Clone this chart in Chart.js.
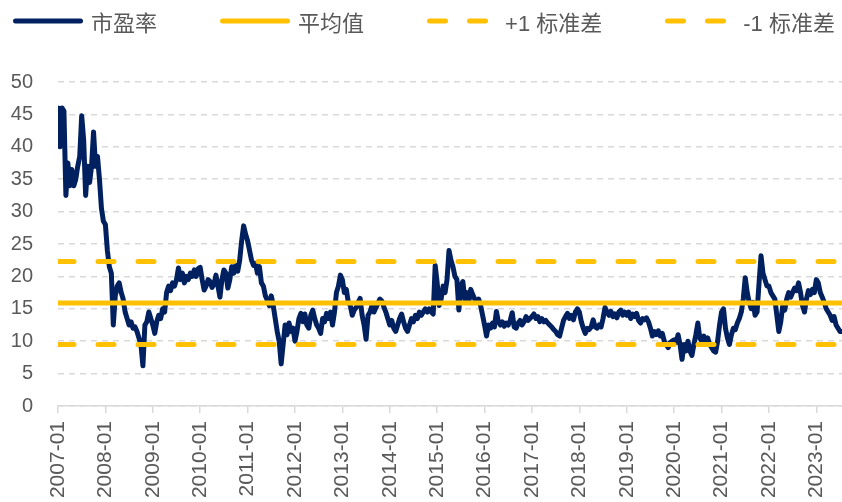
<!DOCTYPE html>
<html>
<head>
<meta charset="utf-8">
<script src="https://cdn.jsdelivr.net/npm/chart.js@4.4.1/dist/chart.umd.min.js"></script>
<style>
  html, body { margin: 0; padding: 0; background: #fff; }
  #wrap { position: relative; width: 842px; height: 502px; }
  #legend {
    position: absolute; top: 6px; left: 13px; height: 30px;
    display: flex; align-items: center;
    font-family: "Liberation Sans", "Noto Sans CJK SC", sans-serif;
    font-size: 22px; color: #595959; white-space: nowrap;
  }
  .item { display: flex; align-items: center; margin-right: 63px; }
  .item svg { margin-right: 8px; }
</style>
</head>
<body>
<div id="wrap">
  <canvas id="peChart" width="842" height="502"></canvas>
  <div id="legend"></div>
</div>
<script>
const startYear = 2007;
const pointsPerYear = 24; // two readings per month

const xTickLabels = ['2007-01', '2008-01', '2009-01', '2010-01', '2011-01', '2012-01',
  '2013-01', '2014-01', '2015-01', '2016-01', '2017-01', '2018-01', '2019-01',
  '2020-01', '2021-01', '2022-01', '2023-01'];

const seriesNames = ['市盈率', '平均值', '+1 标准差', '-1 标准差'];

const pe = [
  // 2007
  46, 40, 46, 45.5, 32.5, 37.5, 34, 36.5, 34, 35, 37, 38.5, 44.8, 41, 32.5, 37, 34.5, 37, 42.3, 37, 38.5, 35, 30.5, 28.5,
  // 2008
  28, 24, 21.5, 20.5, 12.5, 17, 18.5, 19, 17.5, 16.5, 14.5, 13.5, 12.5, 13, 12, 12.2, 11.5, 10.5, 9.5, 6.2, 12.5, 13, 14.5, 13.5,
  // 2009
  12.5, 11.2, 13, 14, 13.5, 15, 14.5, 17.5, 18.5, 17.8, 19, 18.5, 19.5, 21.3, 19.5, 20.5, 19, 20, 19.5, 20.5, 20, 21, 20, 21.2,
  // 2010
  21.4, 19.5, 17.9, 18.5, 19.5, 19.2, 18.3, 18.8, 20.2, 18.5, 16.8, 19.5, 21, 20.5, 18.2, 19.5, 21.5, 20.5, 21.7, 20.8, 22.5, 25.5, 27.8, 26.5,
  // 2011
  25.5, 24, 22.5, 21.7, 22, 20.5, 21.5, 19, 18.5, 17, 16.3, 15.5, 17, 15.5, 13.5, 11.5, 10, 6.5, 9.5, 12.5, 11, 12.8, 11.5, 12,
  // 2012
  10, 11.5, 13.5, 14.3, 13, 14.2, 12.5, 12, 14, 14.8, 13.5, 12.5, 12, 11.2, 13.5, 13, 14.3, 13.5, 14.5, 12.5, 14.5, 17.5, 18.5, 20.2,
  // 2013
  19.5, 17.5, 18, 16, 15.5, 14, 14.8, 15.2, 16, 16.6, 14, 12.5, 10.3, 14, 14.5, 15.5, 14.5, 15.2, 15.8, 16.5, 16.2, 15.3, 14.5, 13.5,
  // 2014
  12.5, 13.2, 12, 11.5, 12.5, 13.5, 14.2, 13, 12, 11.5, 12.5, 13.5, 13, 14, 13.5, 14.5, 14, 14.5, 15, 14.5, 15, 14.5, 14.2, 21.7,
  // 2015
  19, 15.5, 16.5, 18.5, 17.5, 19.5, 24, 22.5, 21.5, 20, 19.5, 14.8, 18.5, 19.2, 16.5, 17.5, 16, 18, 17.2, 16.5, 16, 16.5, 15.5, 14,
  // 2016
  12.5, 10.8, 12.5, 12, 12.8, 12.2, 14.6, 13, 12.5, 13, 12.3, 12.8, 12.5, 13.2, 14.4, 12.2, 12, 12.8, 13.2, 12.5, 13, 13.8, 13.2, 13.5,
  // 2017
  13.8, 14.2, 13.5, 13.8, 13, 13.5, 13, 13.2, 12.8, 12.5, 12.2, 11.8, 11.5, 11, 10.8, 12, 13.2, 13.8, 14.3, 13.5, 14, 13.3, 14.5, 15,
  // 2018
  14.5, 13, 12, 11.2, 12, 11.8, 12.2, 13.3, 12.2, 12, 12.5, 12.2, 13.5, 15.2, 14.5, 14, 14.6, 13.8, 14.2, 13.6, 14.5, 14.8, 14, 14.5,
  // 2019
  14, 14.5, 13.5, 14.2, 13.8, 14.3, 13.2, 12.8, 13.5, 13.3, 13.6, 13, 12, 10.8, 11.5, 11, 11.6, 10.8, 11.2, 10, 9.5, 9, 9.8, 10,
  // 2020
  10.2, 9.8, 11, 9.5, 7.2, 9.5, 8.5, 10, 8.5, 7.8, 9.5, 11, 12.8, 10.5, 10, 10.8, 9.8, 10.5, 9.5, 9, 8.5, 8.3, 10, 12.5,
  // 2021
  14.5, 15, 12, 10.5, 9.5, 11, 12, 11.8, 12.8, 13.5, 14.5, 16.5, 19.8, 17.5, 16, 15, 16, 14, 14.5, 19, 23.2, 20.5, 19.5, 18.5,
  // 2022
  18.5, 17.5, 17, 16.5, 14, 11.5, 13, 15.5, 14.8, 16.5, 17.5, 16.8, 17.5, 18.2, 17.8, 19, 17.5, 15.5, 14.5, 16.5, 17.8, 17.2, 18, 17.5,
  // 2023 (to July)
  19.5, 19, 17.5, 16.8, 16, 15, 14.5, 14, 13.2, 13.8, 12.5, 12, 11.5, 11.5
];

const meanPE = 15.9;
const upperPE = 22.3;
const lowerPE = 9.5;

const dates = pe.map((_, i) => startYear + i / pointsPerYear);

const navy = '#002060';
const gold = '#FFC000';
const labelFont = 'Liberation Sans';

const ctx = document.getElementById('peChart').getContext('2d');

const chart = new Chart(ctx, {
    type: 'line',
    data: {
        datasets: [
            {
                label: seriesNames[0],
                data: dates.map((d, i) => ({ x: d, y: pe[i] })),
                borderColor: navy,
                borderWidth: 5,
                borderJoinStyle: 'round',
                borderCapStyle: 'round',
                pointRadius: 0,
                order: 4
            },
            {
                label: seriesNames[1],
                data: dates.map(d => ({ x: d, y: meanPE })),
                borderColor: gold,
                borderWidth: 5,
                pointRadius: 0,
                order: 3
            },
            {
                label: seriesNames[2],
                data: dates.map(d => ({ x: d, y: upperPE })),
                borderColor: gold,
                borderWidth: 5,
                borderDash: [16, 24],
                borderCapStyle: 'round',
                pointRadius: 0,
                order: 2
            },
            {
                label: seriesNames[3],
                data: dates.map(d => ({ x: d, y: lowerPE })),
                borderColor: gold,
                borderWidth: 5,
                borderDash: [16, 24],
                borderCapStyle: 'round',
                pointRadius: 0,
                order: 1
            }
        ]
    },
    options: {
        responsive: false,
        animation: false,
        devicePixelRatio: 1,
        layout: { padding: { top: 82, left: 10, right: 0, bottom: 0 } },
        plugins: {
            legend: { display: false },
            tooltip: { enabled: false }
        },
        scales: {
            x: {
                type: 'linear',
                min: startYear,
                max: dates[dates.length - 1],
                afterBuildTicks: axis => {
                    axis.ticks = xTickLabels.map((_, i) => ({ value: startYear + i }));
                },
                afterFit: axis => {
                    axis.paddingLeft = 0;
                    axis.paddingRight = 0;
                    axis.height = 96;
                },
                ticks: {
                    callback: v => xTickLabels[Math.round(v - startYear)],
                    autoSkip: false,
                    minRotation: 90,
                    maxRotation: 90,
                    padding: 8,
                    color: '#595959',
                    font: { family: labelFont, size: 21 }
                },
                grid: {
                    drawOnChartArea: false,
                    drawTicks: true,
                    tickLength: 7,
                    color: '#d9d9d9',
                    lineWidth: 1.5
                },
                border: { display: true, color: '#d9d9d9', width: 1.5 }
            },
            y: {
                min: 0,
                max: 50,
                afterFit: axis => {
                    axis.width = 48;
                },
                ticks: {
                    stepSize: 5,
                    padding: 25,
                    color: '#595959',
                    font: { family: labelFont, size: 20 }
                },
                grid: { color: '#d9d9d9', lineWidth: 1.5, drawTicks: false },
                border: { display: false, dash: [6, 5] }
            }
        }
    }
});

// legend built from the datasets
const legendBox = document.getElementById('legend');
chart.data.datasets.forEach(ds => {
    const item = document.createElement('div');
    item.className = 'item';
    const dash = ds.borderDash ? `stroke-dasharray="${ds.borderDash.join(' ')}"` : '';
    item.innerHTML =
        `<svg width="70" height="10"><line x1="2.5" y1="5" x2="67.5" y2="5" stroke="${ds.borderColor}" stroke-width="5" stroke-linecap="round" ${dash}/></svg>` +
        `<span>${ds.label}</span>`;
    legendBox.appendChild(item);
});
</script>
</body>
</html>
